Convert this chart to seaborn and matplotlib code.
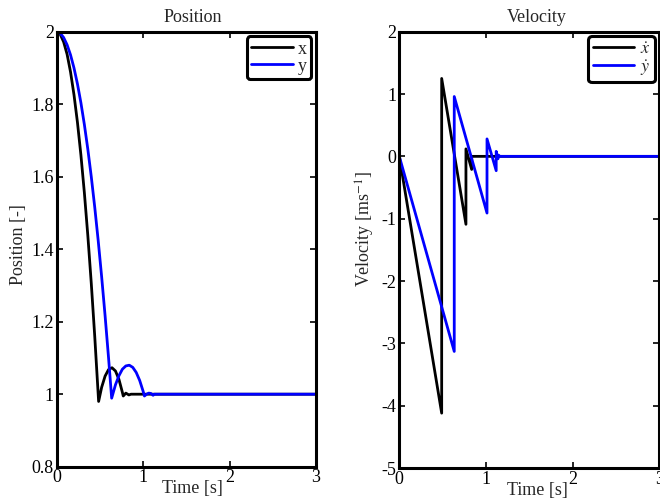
import matplotlib
matplotlib.use('Agg')
import matplotlib.pyplot as plt
import seaborn as sns
from matplotlib.ticker import FormatStrFormatter

# Position data
t_x = [0.0, 0.04, 0.08, 0.12, 0.16, 0.20, 0.24, 0.28, 0.32, 0.36, 0.40, 0.44, 0.485,
       0.52, 0.56, 0.60, 0.64, 0.68, 0.72, 0.76, 0.77, 0.80, 0.835, 0.86, 3.0]
pos_x = [2.000, 1.993, 1.972, 1.938, 1.889, 1.826, 1.750, 1.660, 1.556, 1.438, 1.306, 1.160, 0.980,
         1.019, 1.050, 1.068, 1.073, 1.064, 1.041, 1.005, 0.995, 1.003, 0.998, 1.000, 1.000]

t_y = [0.0, 0.04, 0.08, 0.12, 0.16, 0.20, 0.24, 0.28, 0.32, 0.36, 0.40, 0.44, 0.48, 0.52, 0.56, 0.60, 0.636,
       0.68, 0.72, 0.76, 0.80, 0.84, 0.88, 0.92, 0.96, 1.00, 1.015,
       1.04, 1.065, 1.09, 1.115, 1.13, 1.15, 3.0]
pos_y = [2.000, 1.996, 1.984, 1.964, 1.936, 1.900, 1.856, 1.804, 1.744, 1.676, 1.600, 1.516, 1.424, 1.324, 1.216, 1.100, 0.989,
         1.026, 1.051, 1.069, 1.078, 1.080, 1.074, 1.060, 1.038, 1.008, 0.995,
         1.000, 1.003, 1.002, 0.997, 1.000, 1.000, 1.000]

# Velocity data
tv_x = [0.0, 0.489, 0.489, 0.769, 0.769, 0.835, 0.835, 3.0]
vel_x = [0.0, -4.12, 1.25, -1.09, 0.12, -0.21, 0.0, 0.0]

tv_y = [0.0, 0.634, 0.634, 1.012, 1.012, 1.118, 1.118, 1.138, 1.145, 1.16, 3.0]
vel_y = [0.0, -3.13, 0.96, -0.91, 0.28, -0.23, 0.08, -0.04, 0.02, 0.0, 0.0]

sns.set_style('ticks')
plt.rcParams['font.family'] = ['Liberation Serif', 'DejaVu Serif']
plt.rcParams['mathtext.fontset'] = 'stix'
plt.rcParams['axes.unicode_minus'] = False

fig = plt.figure(figsize=(6.6, 5.03), dpi=100)
ax1 = fig.add_axes([56.7 / 660, (503 - 466.7) / 503, 259.3 / 660, 435 / 503])
ax2 = fig.add_axes([399.3 / 660, (503 - 468) / 503, 260 / 660, 436.3 / 503])

sns.lineplot(x=t_x, y=pos_x, ax=ax1, color='black', lw=2, estimator=None, sort=False, label='x')
sns.lineplot(x=t_y, y=pos_y, ax=ax1, color='blue', lw=2, estimator=None, sort=False, label='y')

sns.lineplot(x=tv_x, y=vel_x, ax=ax2, color='black', lw=2, estimator=None, sort=False, label=r'$\dot{x}$')
sns.lineplot(x=tv_y, y=vel_y, ax=ax2, color='blue', lw=2, estimator=None, sort=False, label=r'$\dot{y}$')

ax1.set_xlim(0, 3)
ax1.set_ylim(0.8, 2)
ax1.set_yticks([0.8, 1.0, 1.2, 1.4, 1.6, 1.8, 2.0])
ax2.set_xlim(0, 3)
ax2.set_ylim(-5, 2)
ax2.set_yticks(range(-5, 3))

for ax, title, ylabel, tx, yl in [(ax1, 'Position', 'Position [-]', 0.524, (-0.148, 0.51)),
                                   (ax2, 'Velocity', r'Velocity [ms$^{-1}$]', 0.53, (-0.132, 0.548))]:
    ax.set_xticks([0, 1, 2, 3])
    ax.xaxis.set_major_formatter(FormatStrFormatter('%g'))
    ax.yaxis.set_major_formatter(FormatStrFormatter('%g'))
    ax.tick_params(direction='in', length=4, width=1.2, top=True, right=True,
                   labelsize=13, pad=2, colors='black')
    for s in ax.spines.values():
        s.set_visible(True)
        s.set_linewidth(2.2)
        s.set_color('black')
    ax.set_title(title, fontsize=13, x=tx, y=1.023, pad=0)
    ax.set_xlabel('Time [s]', fontsize=13)
    ax.xaxis.set_label_coords(tx, -0.051)
    ax.xaxis.label.set_va('center')
    ax.set_ylabel(ylabel, fontsize=13)
    ax.yaxis.set_label_coords(*yl)
    ax.yaxis.label.set_va('center')
    leg = ax.legend(loc='upper right', fontsize=13, borderaxespad=0.25, borderpad=0.25,
                    labelspacing=0.0, handlelength=2.3, handletextpad=0.3,
                    framealpha=1, fancybox=True)
    leg.get_frame().set_edgecolor('black')
    leg.get_frame().set_linewidth(2.2)

fig.savefig('out.png', dpi=100)
